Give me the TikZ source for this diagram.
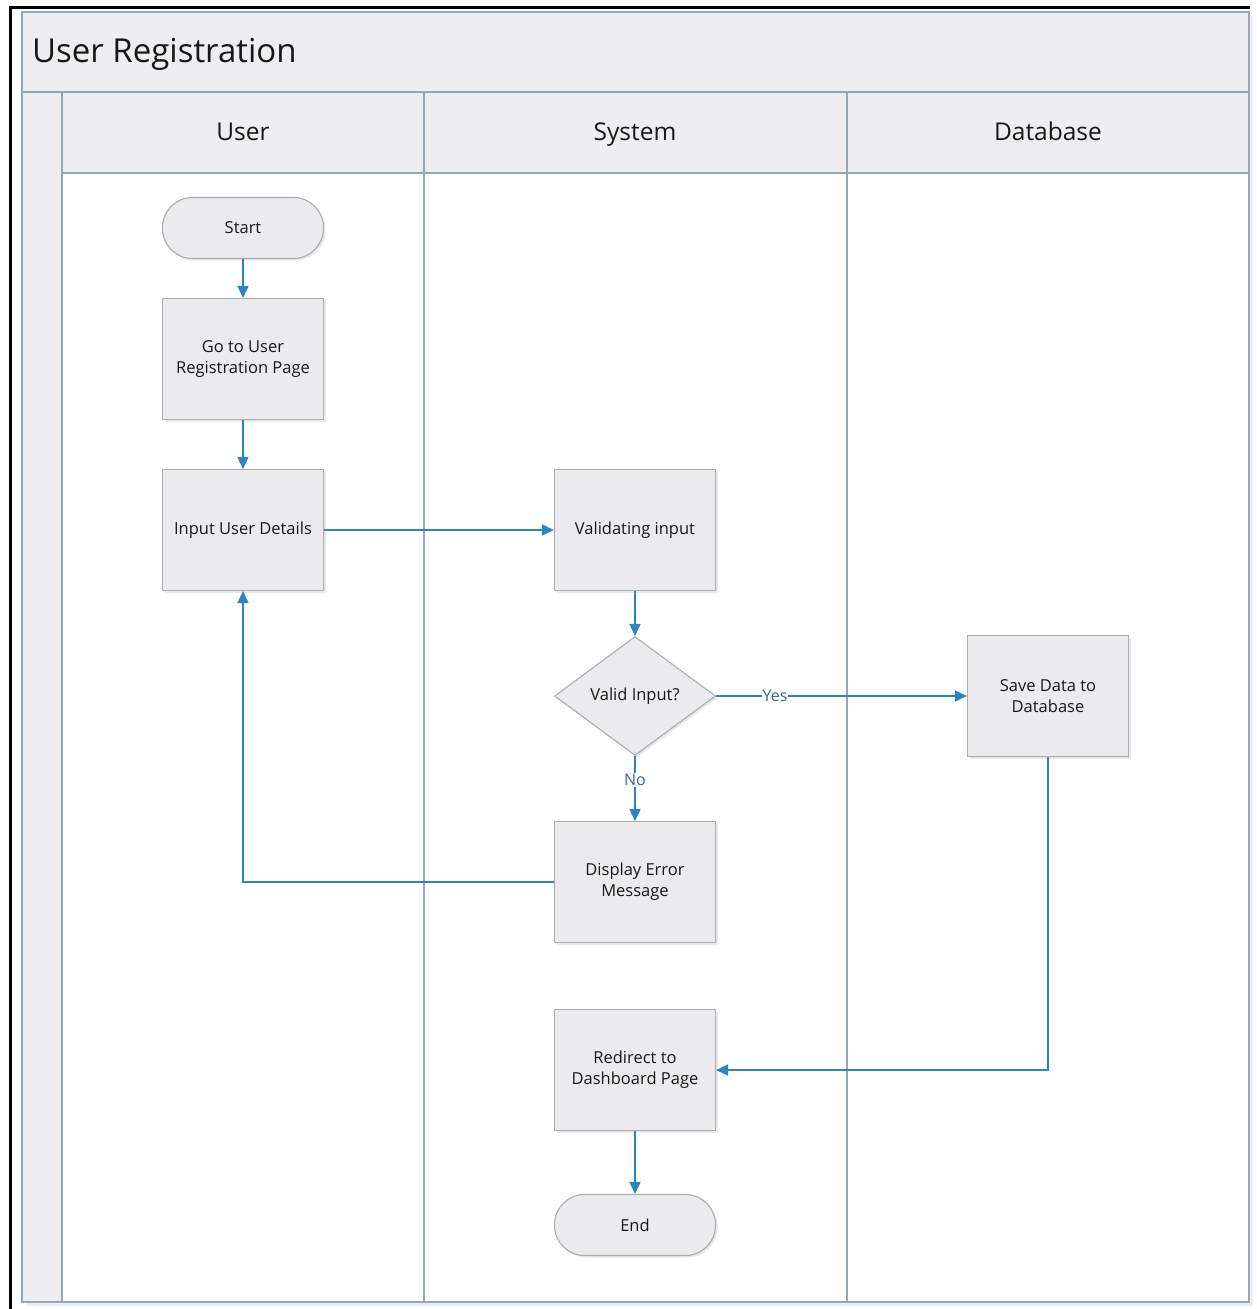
\documentclass[tikz,border=0pt]{standalone}
\usepackage{fontspec}
\setmainfont{Open Sans}
\usetikzlibrary{arrows.meta,shapes.geometric,shadows}

\definecolor{laneline}{RGB}{146,168,186}
\definecolor{headfill}{RGB}{238,238,240}
\definecolor{boxfill}{RGB}{235,235,237}
\definecolor{boxline}{RGB}{168,174,180}
\definecolor{flow}{RGB}{44,132,192}
\definecolor{flowtext}{RGB}{52,104,146}
\definecolor{txt}{RGB}{24,24,24}

\tikzset{
  stepbox/.style={draw=boxline, line width=1.1pt, fill=boxfill,
    minimum width=161pt, minimum height=121pt, align=center, inner sep=2pt,
    font=\fontsize{16.5}{21}\selectfont, text=txt,
    drop shadow={opacity=0.18, shadow xshift=2pt, shadow yshift=-2pt}},
  termbox/.style={stepbox, minimum height=61pt, rounded corners=30pt},
  decisionbox/.style={stepbox, shape=diamond, minimum width=161pt,
    minimum height=119pt, inner sep=0pt, aspect=1.35},
  flowline/.style={draw=flow, line width=1.6pt, -{Triangle[length=12pt,width=11pt]}},
  flowlabel/.style={fill=white, inner sep=1pt, text=flowtext,
    font=\fontsize{16}{19}\selectfont},
  lanetitle/.style={anchor=base, text=txt, font=\fontsize{24.5}{28}\selectfont},
}

\begin{document}
\begin{tikzpicture}[x=1pt,y=-1pt]
\useasboundingbox (0,0) rectangle (1257,1309);
\fill[white] (0,0) rectangle (1257,1309);

% pool background, title band, header row and left strip
\fill[white] (22,12) rectangle (1249,1302);
\fill[headfill] (22,12) rectangle (1249,173);
\fill[headfill] (22,92) rectangle (62,1302);
\fill[black!12, opacity=0.5] (26,1302) rectangle (1252,1306);
\fill[black!12, opacity=0.5] (1249,16) rectangle (1253,1306);

% lane separators and pool outline
\begin{scope}[draw=laneline, line width=1.8pt]
  \draw (22,12) rectangle (1249,1302);
  \draw (22,92) -- (1249,92);
  \draw (62,173) -- (1249,173);
  \draw (62,92) -- (62,1302);
  \draw (424,92) -- (424,1302);
  \draw (847,92) -- (847,1302);
\end{scope}

% screen frame edges
\draw[black, line width=3pt] (10,1309) -- (10,7) -- (1250,7);

% titles
\node[anchor=base west, inner sep=0pt, text=txt, font=\fontsize{33}{38}\selectfont] (pooltitle) at (32,62) {User Registration};
\node[lanetitle] (laneuser) at (243,140) {User};
\node[lanetitle] (lanesystem) at (635,140) {System};
\node[lanetitle] (lanedb) at (1048,140) {Database};

% flow nodes
\node[termbox] (start) at (243,228) {Start};
\node[stepbox] (goto) at (243,359) {Go to User\\Registration Page};
\node[stepbox] (input) at (243,530) {Input User Details};
\node[stepbox] (validate) at (635,530) {Validating input};
\node[decisionbox] (valid) at (635,696) {Valid Input?};
\node[stepbox] (save) at (1048,696) {Save Data to\\Database};
\node[stepbox] (error) at (635,882) {Display Error\\Message};
\node[stepbox] (redirect) at (635,1070) {Redirect to\\Dashboard Page};
\node[termbox] (end) at (635,1225) {End};

% connectors
\draw[flowline] (start) -- (goto);
\draw[flowline] (goto) -- (input);
\draw[flowline] (input) -- (validate);
\draw[flowline] (validate) -- (valid);
\draw[flowline] (valid.east) -- node[flowlabel, pos=0.235] {Yes} (save.west);
\draw[flowline] (valid.south) -- node[flowlabel, pos=0.37] {No} (error.north);
\draw[flowline] (error.west) -| (input.south);
\draw[flowline] (save.south) |- (redirect.east);
\draw[flowline] (redirect) -- (end);
\end{tikzpicture}
\end{document}
